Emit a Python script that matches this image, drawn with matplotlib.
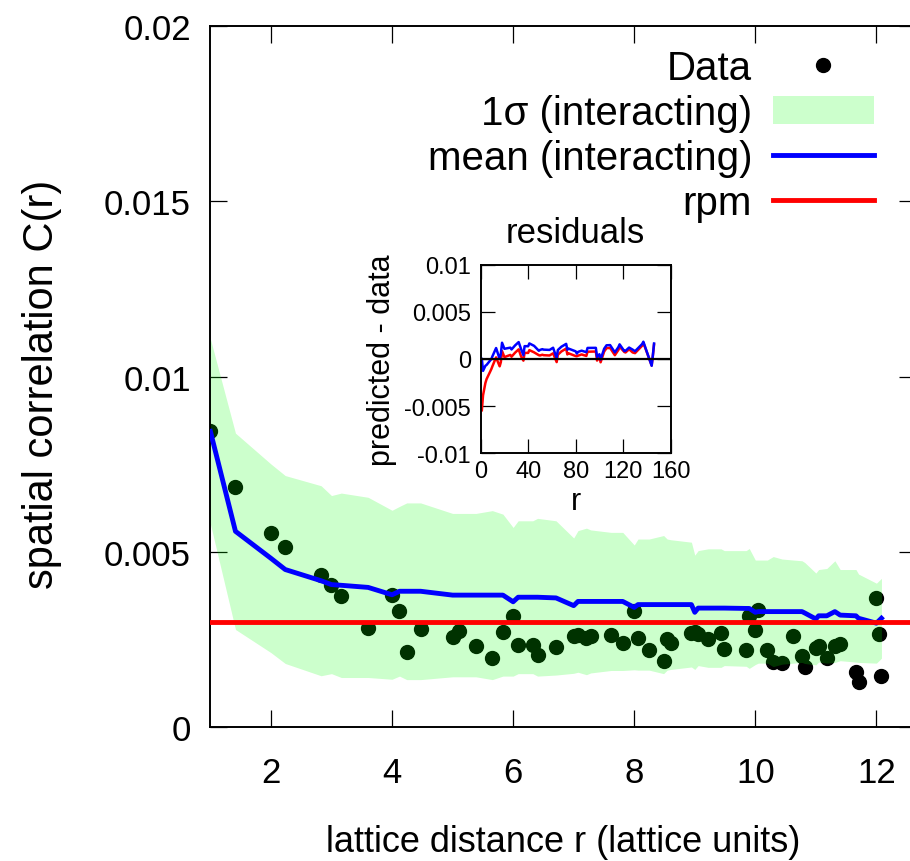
import numpy as np
import matplotlib
matplotlib.use("Agg")
import matplotlib.pyplot as plt
from matplotlib.ticker import FormatStrFormatter

plt.rcParams['font.family'] = ['Liberation Sans', 'DejaVu Sans']

# squared lattice distances (r^2) where the correlation was measured
r2 = np.array([1, 2, 4, 5, 8, 9, 10, 13, 16, 17, 18, 20, 25, 26, 29, 32, 34, 36, 37, 40,
               41, 45, 49, 50, 52, 53, 58, 61, 64, 65, 68, 72, 73, 74, 80, 81, 82, 85, 89, 90,
               97, 98, 100, 101, 104, 106, 109, 113, 116, 117, 121, 122, 125, 128, 130, 136, 137, 144, 145, 146])

# measured C(r), units of 1e-3
data = np.array([8.44, 6.85, 5.54, 5.13, 4.34, 4.07, 3.74, 2.83, 3.78, 3.33, 2.16, 2.80, 2.57, 2.76, 2.33, 1.98, 2.71, 3.18, 2.35, 2.36,
                 2.06, 2.30, 2.60, 2.63, 2.55, 2.60, 2.63, 2.40, 3.33, 2.55, 2.20, 1.90, 2.52, 2.40, 2.69, 2.71, 2.65, 2.52, 2.68, 2.23,
                 2.21, 3.17, 2.78, 3.35, 2.21, 1.85, 1.83, 2.60, 2.04, 1.71, 2.26, 2.31, 1.97, 2.31, 2.38, 1.59, 1.28, 3.69, 2.66, 1.47]) * 1e-3

# interacting model: mean and 1 sigma, units of 1e-3
mean = np.array([8.44, 5.59, 4.82, 4.50, 4.18, 4.07, 4.05, 3.99, 3.78, 3.88, 3.88, 3.88, 3.77, 3.77, 3.77, 3.77, 3.77, 3.58, 3.71, 3.71,
                 3.71, 3.69, 3.47, 3.59, 3.59, 3.59, 3.59, 3.59, 3.42, 3.50, 3.50, 3.50, 3.50, 3.50, 3.50, 3.28, 3.40, 3.40, 3.40, 3.40,
                 3.39, 3.39, 3.28, 3.30, 3.30, 3.30, 3.30, 3.30, 3.30, 3.26, 3.09, 3.18, 3.18, 3.30, 3.20, 3.18, 3.11, 2.97, 3.04, 3.11]) * 1e-3
sigma = np.array([2.64, 2.80, 2.69, 2.68, 2.71, 2.54, 2.63, 2.57, 2.41, 2.42, 2.52, 2.52, 2.33, 2.33, 2.33, 2.41, 2.31, 2.12, 2.18, 2.18,
                  2.25, 2.20, 1.93, 2.02, 2.09, 2.04, 1.97, 1.97, 1.78, 1.87, 1.87, 1.97, 1.87, 1.85, 1.78, 1.63, 1.64, 1.69, 1.69, 1.64,
                  1.65, 1.71, 1.49, 1.47, 1.47, 1.57, 1.50, 1.47, 1.45, 1.44, 1.31, 1.32, 1.35, 1.45, 1.30, 1.32, 1.26, 1.14, 1.14, 1.14]) * 1e-3

rpm = 0.003  # random placement model, constant

r = np.sqrt(r2)

fig = plt.figure(figsize=(9.1, 8.62), dpi=100)
ax = fig.add_axes([0.2312, 0.1551, 0.7751, 0.8135])

ax.plot(r, data, 'o', color='black', markersize=10, zorder=2, label='Data')
ax.fill_between(r, mean - sigma, mean + sigma, color=(0, 1, 0), alpha=0.2, linewidth=0,
                zorder=3, label='1σ (interacting)')
ax.plot(r, mean, color='blue', linewidth=3.5, zorder=4, label='mean (interacting)')
ax.axhline(rpm, color='red', linewidth=3.5, zorder=5, label='rpm')

ax.set_xlim(1, np.sqrt(160))
ax.set_ylim(0, 0.02)
ax.set_xticks([2, 4, 6, 8, 10, 12])
ax.set_yticks([0, 0.005, 0.01, 0.015, 0.02])
ax.yaxis.set_major_formatter(FormatStrFormatter('%g'))
ax.tick_params(direction='in', length=12, width=0.9, top=True, right=True, labelsize=25)
ax.tick_params(axis='y', pad=14)
ax.tick_params(axis='x', pad=21)
for s in ax.spines.values():
    s.set_linewidth(1.4)
ax.set_xlabel('lattice distance r (lattice units)', fontsize=26)
ax.set_ylabel('spatial correlation C(r)', fontsize=30)
ax.xaxis.set_label_coords(0.5, -0.138)
ax.yaxis.set_label_coords(-0.21, 0.491)

leg = ax.legend(loc='upper right', bbox_to_anchor=(0.969, 0.996), frameon=False, markerfirst=False,
                fontsize=29, handlelength=2.5, handletextpad=0.52, labelspacing=0.175, borderpad=0)

# residuals inset
axins = fig.add_axes([0.5282, 0.4730, 0.2088, 0.2188])
axins.plot(r2, rpm - data, color='red', linewidth=1.8)
axins.plot(r2, mean - data, color='blue', linewidth=1.8)
axins.axhline(0, color='black', linewidth=1.6)
axins.set_xlim(0, 160)
axins.set_ylim(-0.01, 0.01)
axins.set_xticks([0, 40, 80, 120, 160])
axins.set_yticks([-0.01, -0.005, 0, 0.005, 0.01])
axins.yaxis.set_major_formatter(FormatStrFormatter('%g'))
axins.tick_params(direction='in', length=10, width=0.9, top=True, right=True, labelsize=17)
axins.tick_params(axis='y', pad=7)
axins.tick_params(axis='x', pad=5)
for s in axins.spines.values():
    s.set_linewidth(1.4)
axins.set_title('residuals', fontsize=25, pad=16)
axins.set_xlabel('r', fontsize=22, labelpad=3)
axins.set_ylabel('predicted - data', fontsize=22)
axins.yaxis.set_label_coords(-0.44, 0.5)

fig.savefig('out.png', dpi=100)
